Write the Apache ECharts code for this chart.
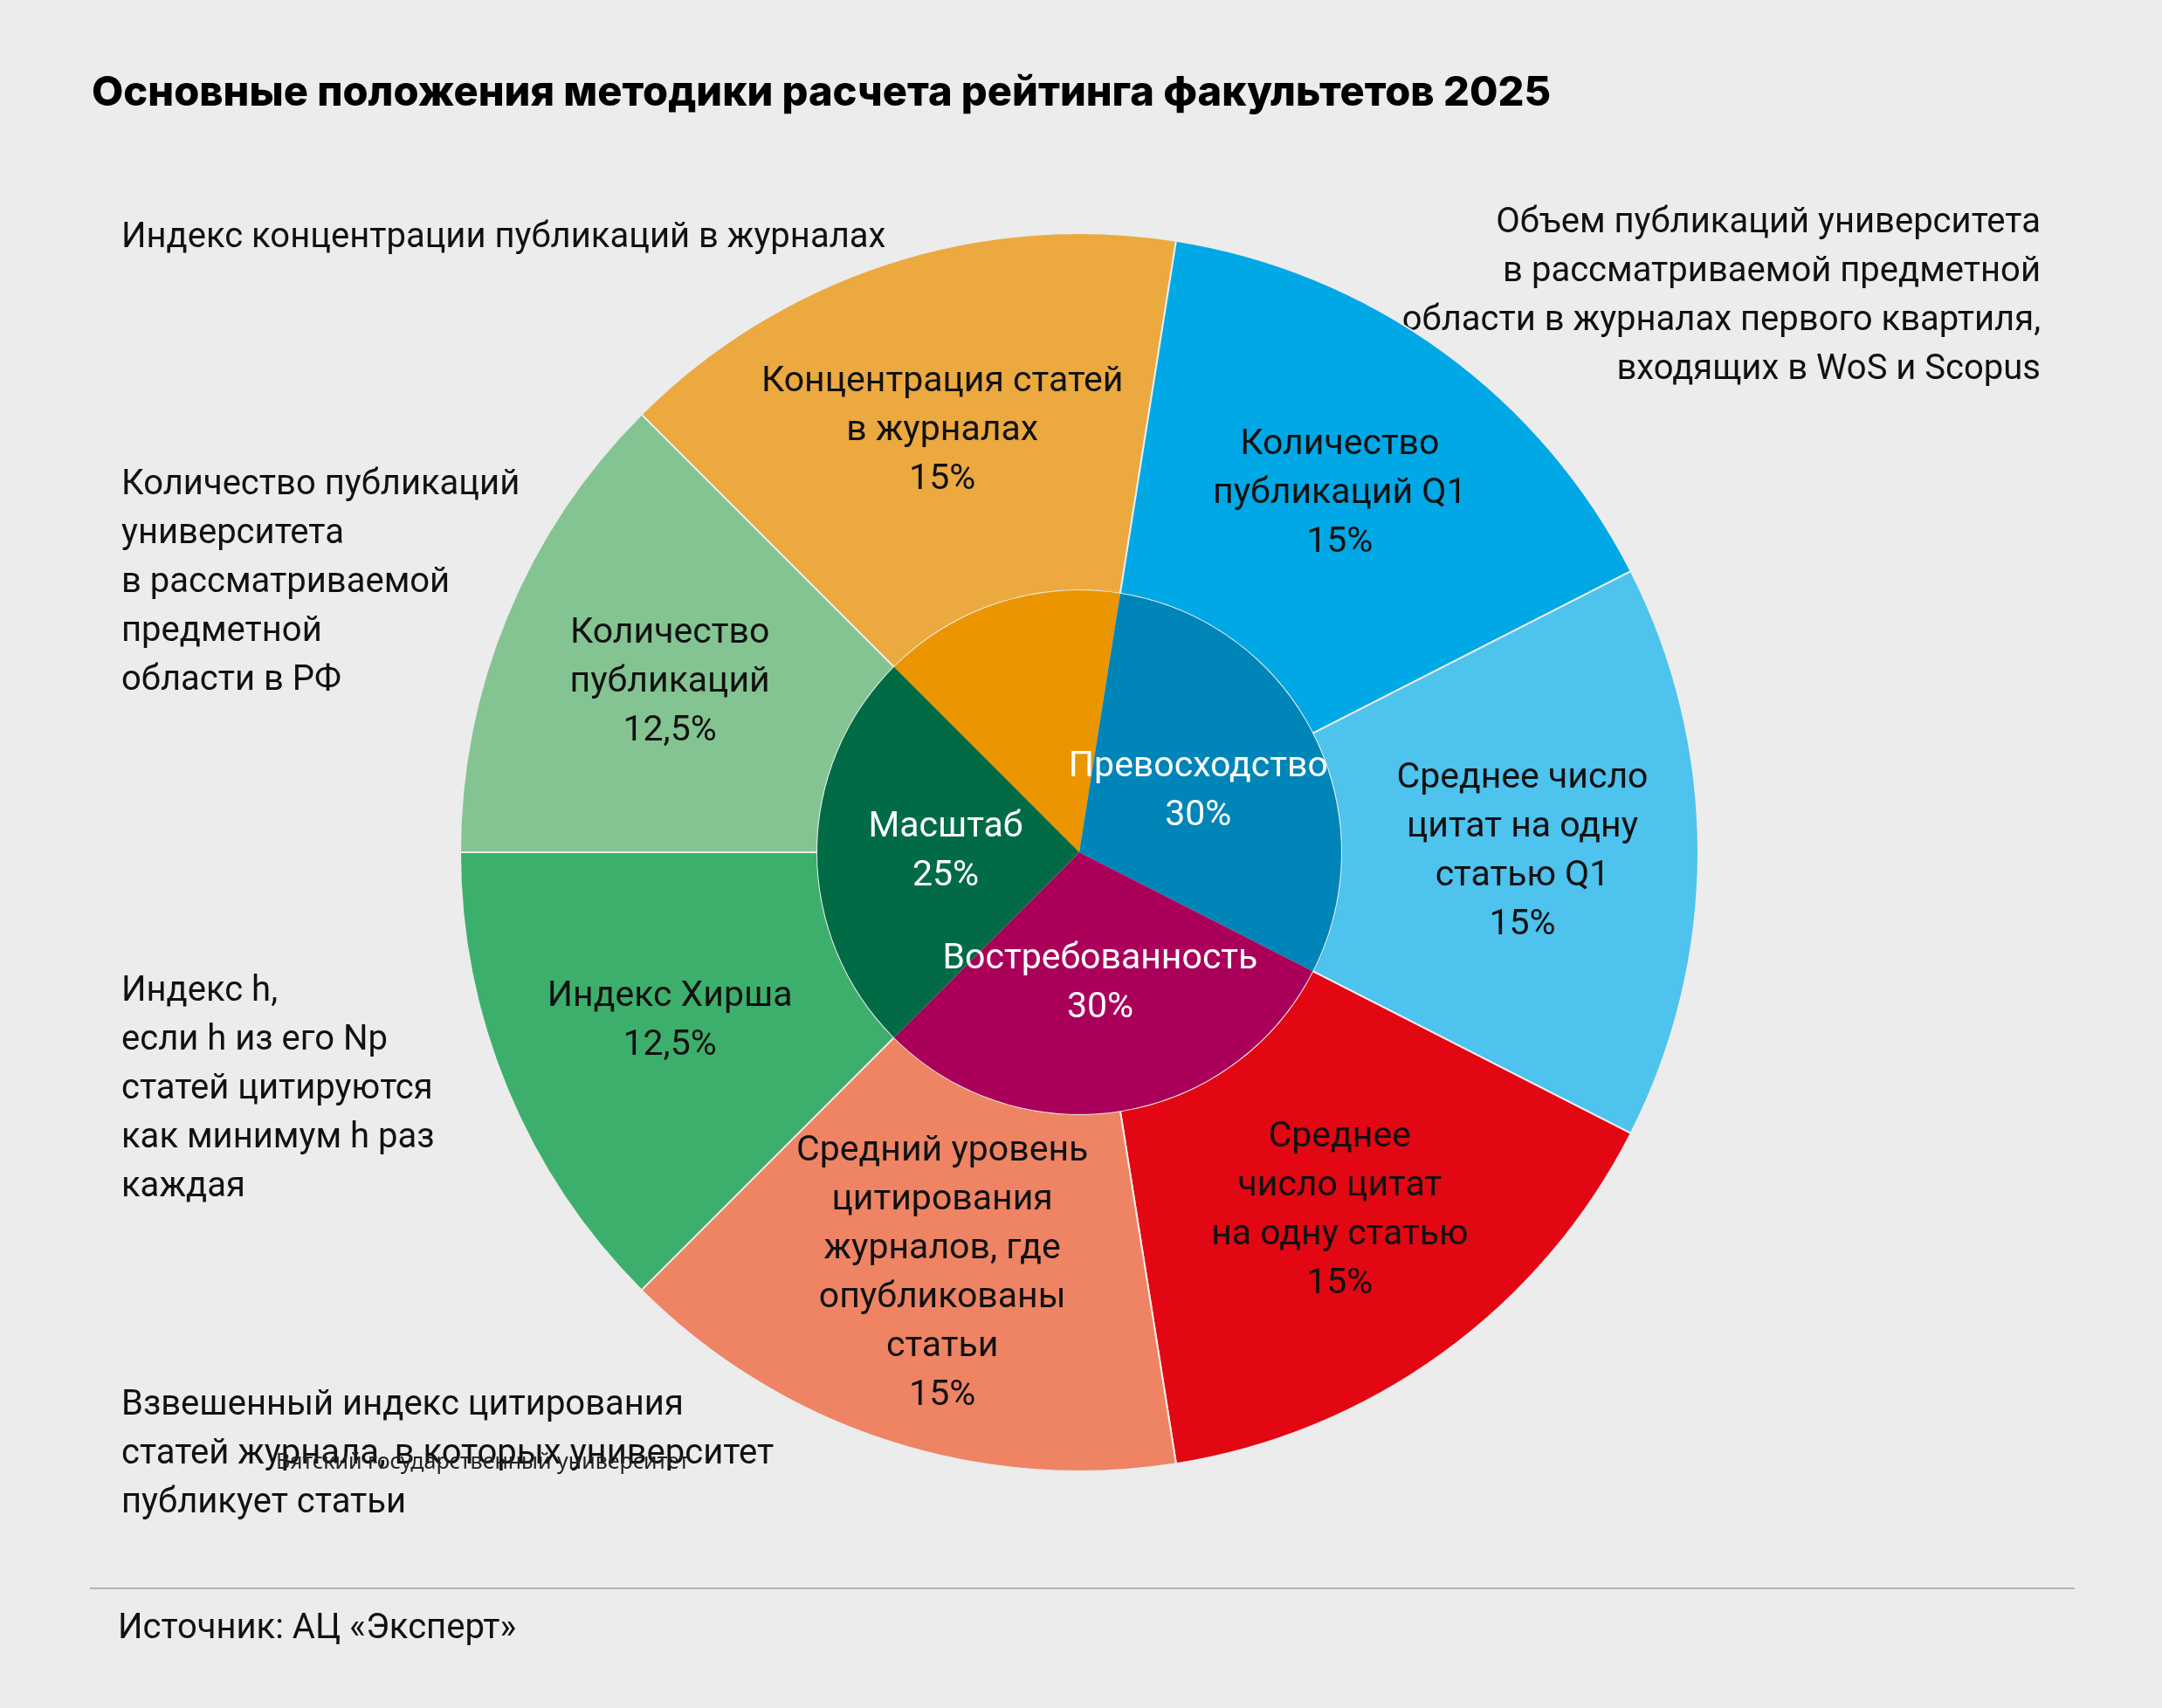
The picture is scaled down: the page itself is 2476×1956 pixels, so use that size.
<!DOCTYPE html>
<html><head><meta charset="utf-8">
<script src="https://cdn.jsdelivr.net/npm/echarts@6/dist/echarts.min.js"></script>
<style>html,body{margin:0;background:#ececec}#c{width:2476px;height:1956px}</style>
</head><body><div id="c"></div>
<script>
const FONT = '"Liberation Sans Narrow","Roboto","Noto Sans",sans-serif';
const outerNames = ['Концентрация статей\nв журналах','Количество\nпубликаций Q1','Среднее число\nцитат на одну\nстатью Q1','Среднее\nчисло цитат\nна одну статью','Средний уровень\nцитирования\nжурналов, где\nопубликованы\nстатьи','Индекс Хирша','Количество\nпубликаций'];
const outerValues = [15,15,15,15,15,12.5,12.5];
const outerLabels = ['15%','15%','15%','15%','15%','12,5%','12,5%'];
const outerColors = ['#EBA940','#00A8E6','#4DC3EE','#E30613','#EE8464','#3DAF6D','#84C493'];
const innerNames = ['Качество\nроста','Превосходство','Востребованность','Масштаб'];
const innerValues = [15,30,30,25];
const innerLabels = ['15%','30%','30%','25%'];
const innerColors = ['#EB9500','#0085B8','#AA005A','#006B45'];
const innerText = ['#111','#fff','#fff','#fff'];

const chart = echarts.init(document.getElementById('c'));
const tx = (x,y,text,align)=>({type:'text',left:align==='right'?undefined:x,right:align==='right'?x:undefined,top:y,
  style:{text,font:'40px '+FONT,fill:'#111',lineHeight:56,textAlign:align||'left'}});
chart.setOption({
  backgroundColor:'#ececec',
  title:{text:'Основные положения методики расчета рейтинга факультетов 2025',left:100,top:78,
    textStyle:{fontFamily:'Inter',fontWeight:800,fontSize:47,color:'#000'}},
  series:[
    {type:'pie',center:[1236,976],radius:[300,709],startAngle:135,clockwise:true,silent:true,
     itemStyle:{borderColor:'#ececec',borderWidth:2},
     label:{position:'inside',fontFamily:FONT,fontSize:41,lineHeight:56,color:'#111',
       formatter:p=>p.data.n+'\n'+p.data.l},
     data:outerValues.map((v,i)=>({value:v,n:outerNames[i],l:outerLabels[i],itemStyle:{color:outerColors[i]}}))},
    {type:'pie',center:[1236,976],radius:[0,300],startAngle:135,clockwise:true,silent:true,
     label:{position:'inside',fontFamily:FONT,fontSize:41,lineHeight:56,
       formatter:p=>p.data.n+'\n'+p.data.l},
     data:innerValues.map((v,i)=>({value:v,n:innerNames[i],l:innerLabels[i],itemStyle:{color:innerColors[i]},label:{color:innerText[i]}}))}
  ],
  graphic:[
    tx(139,245,'Индекс концентрации публикаций в журналах'),
    tx(139,528,'Количество публикаций\nуниверситета\nв рассматриваемой\nпредметной\nобласти в РФ'),
    tx(139,1108,'Индекс h,\nесли h из его Np\nстатей цитируются\nкак минимум h раз\nкаждая'),
    tx(139,1582,'Взвешенный индекс цитирования\nстатей журнала, в которых университет\nпубликует статьи'),
    tx(139,228,'Объем публикаций университета\nв рассматриваемой предметной\nобласти в журналах первого квартиля,\nвходящих в WoS и Scopus','right'),
    {type:'text',left:316,top:1662,style:{text:'Вятский государственный университет',font:'25px "Noto Sans",sans-serif',fill:'#222'}},
    {type:'rect',shape:{x:103,y:1818,width:2273,height:2},style:{fill:'#b5b5b5'}},
    tx(135,1838,'Источник: АЦ «Эксперт»')
  ]
});
</script></body></html>
